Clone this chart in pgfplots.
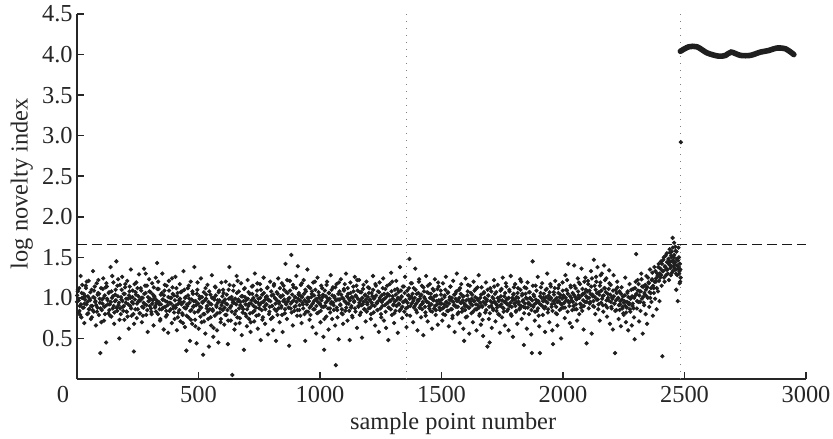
\documentclass[border=0pt]{standalone}
\usepackage{fontspec}
\setmainfont{Liberation Serif}
\usepackage{pgfplots}
\pgfplotsset{compat=1.18}
\begin{document}
\fontsize{12.2pt}{14pt}\selectfont
\begin{tikzpicture}
\begin{axis}[
 scale only axis, width=364.5pt, height=182.5pt,
 xmin=0, xmax=3000, ymin=0, ymax=4.5,
 axis x line*=bottom, axis y line*=left,
 axis line style={-, line width=0.9pt, black!85},
 tick style={line width=0.8pt, black!85},
 tick align=inside, major tick length=3.5pt,
 xtick={0,500,1000,1500,2000,2500,3000},
 ytick={0.5,1,1.5,2,2.5,3,3.5,4,4.5},
 xticklabels={\makebox[0pt][r]{0\kern4pt},500,1000,1500,2000,2500,3000},
 /pgf/number format/assume math mode=true,
 xticklabel style={anchor=base, yshift=-11.8pt, text=black!85},
 yticklabel style={inner sep=2pt, text=black!85, /pgf/number format/fixed, /pgf/number format/fixed zerofill, /pgf/number format/precision=1},
 xlabel={sample point number}, ylabel={log novelty index},
 xlabel style={at={(axis description cs:0.516,0)}, anchor=base, yshift=-25pt, text=black!85},
 ylabel style={at={(axis description cs:-0.06,0.535)}, anchor=south, inner sep=0pt, text=black!85},
 clip=false,
]
\coordinate (sw) at (rel axis cs:0,0);
\coordinate (ne) at (rel axis cs:1,1);
\addplot[gray, line width=0.5pt, dash pattern=on 0.5pt off 3pt] coordinates {(1355,0)(1355,4.5)};
\addplot[gray, line width=0.5pt, dash pattern=on 0.5pt off 3pt] coordinates {(2483,0)(2483,4.5)};
\addplot[black!90, line width=0.6pt, dash pattern=on 5pt off 2.5pt] coordinates {(0,1.655)(3000,1.655)};
\addplot[only marks, mark=*, mark size=0.86pt, black!88] coordinates {
(0,0.95)(3,1.08)(6,0.82)(9,1.12)(12,0.9)(15,1.27)(18,0.76)(21,1.0)(24,0.88)(27,1.05)
(30,0.69)(33,0.98)(36,1.15)(39,0.92)(42,0.8)(45,1.02)(48,1.21)(51,0.86)(54,0.97)(57,0.74)
(60,1.1)(63,0.9)(66,1.33)(69,0.83)(72,1.0)(75,0.95)(78,0.66)(81,1.18)(84,0.88)(87,1.06)
(90,0.79)(93,0.99)(96,0.32)(99,1.12)(102,0.85)(105,0.93)(108,1.24)(111,0.72)(114,1.03)(117,0.9)
(120,0.45)(123,1.14)(126,0.97)(129,0.81)(132,1.07)(135,0.92)(138,1.38)(141,0.77)(144,1.0)(147,0.87)
(150,1.19)(153,0.68)(156,0.96)(159,1.1)(162,1.45)(165,0.84)(168,1.02)(171,0.91)(174,0.5)(177,1.16)
(180,0.8)(183,0.98)(186,1.26)(189,0.89)(192,1.05)(195,0.73)(198,1.13)(201,0.94)(204,0.83)(207,1.21)
(210,0.99)(213,0.62)(216,1.08)(219,0.9)(222,1.35)(225,0.78)(228,1.01)(231,0.93)(234,0.34)(237,1.17)
(240,0.86)(243,1.04)(246,0.75)(249,1.12)(252,0.95)(255,1.29)(258,0.81)(261,0.97)(264,1.09)(267,0.7)
(270,1.0)(273,0.88)(276,1.36)(279,0.92)(282,1.06)(285,0.79)(288,1.15)(291,0.58)(294,0.96)(297,1.23)
(300,0.9)(303,1.07)(306,0.83)(309,1.18)(312,0.97)(315,0.66)(318,1.02)(321,0.88)(324,1.25)(327,0.94)
(330,1.43)(333,0.8)(336,1.11)(339,0.92)(342,0.72)(345,1.04)(348,0.86)(351,1.3)(354,0.98)(357,0.61)
(360,1.09)(363,0.89)(366,0.77)(369,1.15)(372,0.95)(375,0.57)(378,1.21)(381,0.84)(384,1.0)(387,0.93)
(390,0.69)(393,1.13)(396,0.87)(399,1.03)(402,0.74)(405,1.26)(408,0.91)(411,0.6)(414,1.06)(417,0.82)
(420,0.97)(423,1.17)(426,0.71)(429,0.94)(432,1.08)(435,0.79)(438,1.33)(441,0.88)(444,0.64)(447,1.01)
(450,0.35)(453,0.92)(456,1.12)(459,0.76)(462,0.99)(465,0.47)(468,1.2)(471,0.85)(474,0.68)(477,1.05)
(480,0.9)(483,1.38)(486,0.73)(489,0.96)(492,0.44)(495,1.1)(498,0.83)(501,0.62)(504,1.02)(507,0.89)
(510,1.24)(513,0.7)(516,0.95)(519,0.3)(522,1.07)(525,0.8)(528,0.56)(531,0.99)(534,0.87)(537,1.16)
(540,0.74)(543,0.4)(546,0.93)(549,1.04)(552,0.66)(555,1.28)(558,0.86)(561,0.52)(564,1.0)(567,0.78)
(570,1.13)(573,0.91)(576,0.6)(579,0.97)(582,0.45)(585,1.09)(588,0.82)(591,0.7)(594,1.19)(597,0.94)
(600,0.85)(603,1.06)(606,0.67)(609,0.98)(612,1.2)(615,0.79)(618,0.92)(621,0.43)(624,1.1)(627,1.38)
(630,0.88)(633,0.72)(636,1.01)(639,0.05)(642,0.94)(645,1.15)(648,0.61)(651,0.99)(654,0.84)(657,1.27)
(660,0.76)(663,0.96)(666,1.08)(669,0.69)(672,0.91)(675,1.18)(678,0.54)(681,1.02)(684,0.86)(687,0.36)
(690,1.12)(693,0.8)(696,0.97)(699,0.65)(702,1.22)(705,0.9)(708,0.74)(711,1.05)(714,0.58)(717,0.93)
(720,1.14)(723,0.82)(726,1.0)(729,0.71)(732,1.3)(735,0.95)(738,0.78)(741,1.09)(744,0.62)(747,0.99)
(750,0.87)(753,1.17)(756,0.48)(759,0.94)(762,1.04)(765,0.76)(768,1.25)(771,0.89)(774,0.68)(777,1.01)
(780,0.92)(783,1.12)(786,0.55)(789,0.97)(792,0.83)(795,1.2)(798,0.74)(801,1.03)(804,0.9)(807,0.6)
(810,1.15)(813,0.86)(816,0.99)(819,0.47)(822,1.07)(825,0.79)(828,1.24)(831,0.93)(834,0.7)(837,1.02)
(840,0.88)(843,1.18)(846,0.58)(849,0.96)(852,1.1)(855,0.81)(858,1.42)(861,0.92)(864,0.74)(867,1.06)
(870,0.99)(873,0.41)(876,1.21)(879,0.87)(882,1.53)(885,0.95)(888,0.66)(891,1.13)(894,0.84)(897,1.01)
(900,0.9)(903,1.27)(906,0.78)(909,1.39)(912,1.04)(915,0.85)(918,0.97)(921,1.16)(924,0.69)(927,1.01)
(930,0.92)(933,1.22)(936,0.8)(939,0.47)(942,1.08)(945,0.95)(948,1.35)(951,0.83)(954,1.0)(957,0.73)
(960,1.12)(963,0.9)(966,1.05)(969,0.64)(972,1.19)(975,0.96)(978,0.86)(981,1.1)(984,0.56)(987,0.99)
(990,1.25)(993,0.82)(996,1.03)(999,0.93)(1002,0.7)(1005,1.15)(1008,0.89)(1011,1.01)(1014,0.52)(1017,0.36)
(1020,1.09)(1023,0.94)(1026,0.77)(1029,1.2)(1032,0.99)(1035,0.61)(1038,1.06)(1041,0.87)(1044,1.28)(1047,0.95)
(1050,0.74)(1053,1.13)(1056,0.91)(1059,1.02)(1062,0.66)(1065,0.17)(1068,1.17)(1071,0.85)(1074,0.98)(1077,0.49)
(1080,1.08)(1083,0.92)(1086,1.23)(1089,0.81)(1092,1.0)(1095,0.68)(1098,1.11)(1101,0.96)(1104,0.84)(1107,1.3)
(1110,0.93)(1113,0.72)(1116,1.05)(1119,0.99)(1122,0.48)(1125,1.19)(1128,0.88)(1131,1.01)(1134,0.76)(1137,1.14)
(1140,0.95)(1143,1.26)(1146,0.83)(1149,1.02)(1152,0.63)(1155,1.09)(1158,0.9)(1161,1.22)(1164,0.79)(1167,0.97)
(1170,1.07)(1173,0.51)(1176,0.92)(1179,1.16)(1182,0.86)(1185,1.03)(1188,0.71)(1191,1.2)(1194,0.94)(1197,1.01)
(1200,0.87)(1203,1.12)(1206,0.98)(1209,0.74)(1212,1.06)(1215,0.91)(1218,1.27)(1221,0.82)(1224,1.0)(1227,0.66)
(1230,1.15)(1233,0.94)(1236,0.85)(1239,1.08)(1242,0.58)(1245,1.19)(1248,0.97)(1251,0.8)(1254,1.03)(1257,0.9)
(1260,1.24)(1263,0.72)(1266,0.99)(1269,1.11)(1272,0.63)(1275,0.93)(1278,1.05)(1281,0.48)(1284,0.88)(1287,1.17)
(1290,0.96)(1293,1.31)(1296,0.79)(1299,1.02)(1302,0.91)(1305,0.69)(1308,1.1)(1311,0.84)(1314,1.21)(1317,0.98)
(1320,0.57)(1323,1.07)(1326,0.92)(1329,1.38)(1332,0.86)(1335,1.01)(1338,0.75)(1341,1.14)(1344,0.95)(1347,0.83)
(1350,1.26)(1353,0.97)(1356,0.64)(1359,1.09)(1362,0.89)(1365,1.03)(1368,1.48)(1371,0.78)(1374,1.18)(1377,0.93)
(1380,1.0)(1383,0.7)(1386,1.12)(1389,0.9)(1392,1.36)(1395,0.85)(1398,1.05)(1401,0.6)(1404,0.96)(1407,1.2)
(1410,0.88)(1413,1.02)(1416,0.76)(1419,1.15)(1422,0.93)(1425,0.54)(1428,1.08)(1431,0.99)(1434,0.82)(1437,1.27)
(1440,0.95)(1443,0.71)(1446,1.06)(1449,0.9)(1452,1.17)(1455,0.84)(1458,1.0)(1461,0.62)(1464,1.11)(1467,0.97)
(1470,0.87)(1473,1.23)(1476,0.79)(1479,1.03)(1482,0.92)(1485,0.67)(1488,1.14)(1491,0.96)(1494,0.85)(1497,1.09)
(1500,0.93)(1503,0.72)(1506,1.18)(1509,0.88)(1512,1.01)(1515,0.79)(1518,1.26)(1521,0.95)(1524,0.84)(1527,1.07)
(1530,0.65)(1533,0.98)(1536,1.14)(1539,0.86)(1542,1.0)(1545,0.75)(1548,1.21)(1551,0.91)(1554,0.58)(1557,1.05)
(1560,0.89)(1563,1.3)(1566,0.8)(1569,0.97)(1572,1.1)(1575,0.69)(1578,0.94)(1581,1.17)(1584,0.83)(1587,1.02)
(1590,0.62)(1593,0.47)(1596,0.9)(1599,1.24)(1602,0.97)(1605,0.77)(1608,1.08)(1611,0.88)(1614,0.56)(1617,1.15)
(1620,0.93)(1623,0.81)(1626,1.04)(1629,0.7)(1632,1.2)(1635,0.96)(1638,0.86)(1641,1.11)(1644,0.6)(1647,0.99)
(1650,0.91)(1653,1.28)(1656,0.78)(1659,1.0)(1662,0.67)(1665,1.13)(1668,0.89)(1671,0.53)(1674,1.06)(1677,0.94)
(1680,0.82)(1683,1.19)(1686,0.96)(1689,0.4)(1692,1.03)(1695,0.74)(1698,0.45)(1701,1.12)(1704,0.9)(1707,0.63)
(1710,1.01)(1713,0.85)(1716,1.22)(1719,0.95)(1722,0.71)(1725,1.07)(1728,0.88)(1731,1.16)(1734,0.8)(1737,0.98)
(1740,0.57)(1743,1.09)(1746,0.92)(1749,0.76)(1752,1.25)(1755,0.87)(1758,1.02)(1761,0.66)(1764,0.95)(1767,1.14)
(1770,0.84)(1773,0.99)(1776,0.6)(1779,1.1)(1782,0.9)(1785,1.27)(1788,0.78)(1791,1.0)(1794,0.52)(1797,1.05)
(1800,0.93)(1803,1.17)(1806,0.83)(1809,1.01)(1812,0.68)(1815,1.12)(1818,0.95)(1821,0.86)(1824,1.23)(1827,0.9)
(1830,0.74)(1833,1.05)(1836,0.97)(1839,0.42)(1842,1.13)(1845,0.88)(1848,1.0)(1851,0.62)(1854,1.19)(1857,0.93)
(1860,0.8)(1863,1.07)(1866,0.99)(1869,0.55)(1872,0.32)(1875,1.45)(1878,0.89)(1881,1.02)(1884,0.72)(1887,1.15)
(1890,0.94)(1893,0.84)(1896,1.26)(1899,0.96)(1902,0.65)(1905,0.32)(1908,1.06)(1911,0.91)(1914,1.18)(1917,0.79)
(1920,1.0)(1923,0.87)(1926,0.58)(1929,1.1)(1932,0.95)(1935,1.3)(1938,0.82)(1941,1.03)(1944,0.7)(1947,0.98)
(1950,1.14)(1953,0.89)(1956,0.6)(1959,0.43)(1962,1.07)(1965,0.93)(1968,1.21)(1971,0.81)(1974,1.0)(1977,0.66)
(1980,1.12)(1983,0.96)(1986,0.85)(1989,1.04)(1992,0.5)(1995,0.92)(1998,1.19)(2001,0.88)(2004,1.02)(2007,0.75)
(2010,1.28)(2013,0.97)(2016,1.09)(2019,0.83)(2022,1.42)(2025,0.94)(2028,0.69)(2031,1.15)(2034,1.0)(2037,0.64)
(2040,1.06)(2043,0.9)(2046,1.4)(2049,0.86)(2052,1.12)(2055,0.98)(2058,0.72)(2061,1.24)(2064,1.03)(2067,0.8)
(2070,1.17)(2073,0.92)(2076,1.36)(2079,0.84)(2082,1.05)(2085,0.61)(2088,1.2)(2091,0.95)(2094,1.1)(2097,0.44)
(2100,1.0)(2103,1.21)(2106,0.87)(2109,1.09)(2112,0.95)(2115,1.33)(2118,0.56)(2121,1.04)(2124,0.9)(2127,1.47)
(2130,1.15)(2133,0.8)(2136,1.26)(2139,0.98)(2142,1.38)(2145,0.86)(2148,1.07)(2151,0.72)(2154,1.19)(2157,0.94)
(2160,1.3)(2163,1.02)(2166,0.83)(2169,1.4)(2172,1.12)(2175,0.91)(2178,1.24)(2181,0.77)(2184,1.05)(2187,0.97)
(2190,1.34)(2193,0.68)(2196,1.16)(2199,0.89)(2202,1.01)(2205,0.61)(2208,1.28)(2211,0.93)(2214,0.32)(2217,1.1)
(2220,0.85)(2223,1.2)(2226,0.99)(2229,0.74)(2232,1.08)(2235,0.92)(2238,0.65)(2241,1.13)(2244,0.87)(2247,1.02)
(2250,0.79)(2253,0.96)(2256,1.25)(2259,0.7)(2262,0.88)(2265,1.06)(2268,0.6)(2271,0.94)(2274,1.17)(2277,0.83)
(2280,1.0)(2283,0.66)(2286,0.9)(2289,1.11)(2292,0.76)(2295,0.49)(2298,1.03)(2301,1.54)(2304,0.87)(2307,1.22)
(2310,0.95)(2313,0.71)(2316,1.08)(2319,0.84)(2322,1.3)(2325,0.99)(2328,0.56)(2331,1.14)(2334,0.91)(2337,1.04)
(2340,0.8)(2343,1.27)(2346,0.68)(2349,1.0)(2352,1.19)(2355,0.89)(2358,1.35)(2361,1.06)(2364,0.95)(2367,1.23)
(2370,0.78)(2373,1.12)(2376,1.38)(2379,0.99)(2382,1.2)(2385,0.86)(2388,1.3)(2391,1.08)(2394,1.42)(2397,0.96)
(2400,1.25)(2403,1.45)(2406,1.15)(2409,0.28)(2412,1.33)(2415,1.5)(2418,1.2)(2421,1.38)(2424,1.28)(2427,1.55)
(2430,1.35)(2433,1.44)(2436,1.22)(2439,1.6)(2442,1.4)(2445,1.52)(2448,1.31)(2451,1.74)(2454,1.46)(2457,1.68)
(2460,1.36)(2463,1.58)(2466,1.1)(2469,1.48)(2472,0.96)(2475,1.62)(2478,1.3)(2481,1.42)(2484,1.25)
(2440,1.45)(2447,1.57)(2456,1.5)(2462,1.63)(2470,1.4)(2477,1.5)(2480,1.18)(2483,1.35)(2444,1.28)(2452,1.33)
(2458,1.42)(2465,1.3)(2474,1.36)
(2485,2.92)
(1,1.03)(4,1.1)(7,0.97)(10,0.84)(13,0.79)(16,0.92)(19,1.06)(22,1.16)(25,1.0)(28,0.88)
(31,0.93)(34,1.02)(37,1.12)(40,1.2)(43,0.95)(46,0.81)(49,0.86)(52,0.99)(55,1.07)(58,0.9)
(61,0.76)(64,0.85)(67,1.01)(70,1.09)(73,1.14)(76,0.96)(79,0.91)(82,0.83)(85,1.04)(88,1.22)
(91,1.05)(94,0.94)(97,0.87)(100,0.7)(103,0.98)(106,1.11)(109,1.0)(112,0.89)(115,0.8)(118,1.13)
(121,1.18)(124,0.99)(127,0.92)(130,1.06)(133,0.85)(136,0.78)(139,0.95)(142,1.08)(145,1.27)(148,1.02)
(151,0.9)(154,0.82)(157,1.04)(160,0.97)(163,0.88)(166,1.15)(169,1.23)(172,0.94)(175,0.73)(178,0.87)
(181,1.01)(184,1.1)(187,0.96)(190,0.84)(193,0.9)(196,1.05)(199,1.17)(202,0.99)(205,0.83)(208,0.77)
(211,0.92)(214,1.03)(217,1.14)(220,1.0)(223,0.87)(226,0.95)(229,1.09)(232,0.8)(235,0.68)(238,0.98)
(241,1.07)(244,1.19)(247,0.93)(250,0.86)(253,1.02)(256,0.97)(259,0.81)(262,1.12)(265,1.0)(268,0.89)
(271,0.78)(274,0.94)(277,1.05)(280,1.15)(283,1.3)(286,0.91)(289,0.85)(292,1.01)(295,0.96)(298,1.08)
(301,0.99)(304,0.87)(307,0.8)(310,0.93)(313,1.04)(316,1.13)(319,1.0)(322,0.9)(325,0.83)(328,0.97)
(331,1.11)(334,1.2)(337,0.95)(340,0.86)(343,0.74)(346,0.92)(349,1.06)(352,0.98)(355,0.88)(358,1.03)
(361,1.16)(364,0.96)(367,0.84)(370,0.79)(373,0.91)(376,1.01)(379,1.09)(382,0.94)(385,0.86)(388,1.0)
(391,1.24)(394,1.05)(397,0.9)(400,0.82)(403,0.97)(406,0.88)(409,1.12)(412,1.02)(415,0.76)(418,0.93)
(421,0.85)(424,0.99)(427,1.07)(430,0.92)(433,0.81)(436,0.69)(439,0.95)(442,1.1)(445,1.0)(448,0.87)
(451,0.78)(454,0.9)(457,1.03)(460,1.15)(463,0.94)(466,0.84)(469,0.73)(472,0.98)(475,1.08)(478,0.89)
(481,0.96)(484,0.82)(487,0.65)(490,0.91)(493,1.05)(496,1.19)(499,0.93)(502,0.85)(505,0.99)(508,0.77)
(511,0.88)(514,1.01)(517,0.94)(520,0.8)(523,0.71)(526,0.97)(529,1.12)(532,1.04)(535,0.9)(538,0.83)
(541,0.95)(544,1.08)(547,0.86)(550,0.76)(553,0.92)(556,1.0)(559,0.84)(562,0.63)(565,0.98)(568,1.14)
(571,1.03)(574,0.89)(577,0.81)(580,0.94)(583,1.07)(586,0.97)(589,0.87)(592,0.74)(595,0.91)(598,1.02)
(601,1.1)(604,0.96)(607,0.88)(610,0.79)(613,0.93)(616,1.04)(619,0.85)(622,0.72)(625,0.99)(628,1.16)
(631,1.0)(634,0.9)(637,0.83)(640,0.97)(643,1.09)(646,0.94)(649,0.8)(652,0.68)(655,0.92)(658,1.06)
(661,1.21)(664,0.98)(667,0.87)(670,0.75)(673,0.95)(676,1.02)(679,0.89)(682,0.82)(685,0.96)(688,1.11)
(691,1.01)(694,0.92)(697,0.77)(700,0.86)(703,0.99)(706,1.07)(709,0.93)(712,0.81)(715,0.7)(718,0.97)
(721,1.05)(724,1.15)(727,0.9)(730,0.84)(733,0.96)(736,0.88)(739,1.03)(742,1.18)(745,0.94)(748,0.79)
(751,0.91)(754,1.0)(757,1.1)(760,0.85)(763,0.73)(766,0.95)(769,1.06)(772,0.97)(775,0.86)(778,0.92)
(781,1.02)(784,1.13)(787,0.98)(790,0.8)(793,0.89)(796,0.96)(799,1.08)(802,0.9)(805,0.76)(808,1.04)
(811,1.17)(814,1.0)(817,0.93)(820,0.84)(823,0.97)(826,1.05)(829,0.87)(832,0.95)(835,1.12)(838,1.01)
(841,0.9)(844,0.79)(847,1.03)(850,1.15)(853,0.98)(856,0.86)(859,0.94)(862,1.07)(865,1.22)(868,0.96)
(871,0.88)(874,1.0)(877,1.09)(880,0.93)(883,0.82)(886,1.04)(889,1.16)(892,0.97)(895,0.89)(898,1.01)
(901,1.12)(904,0.95)(907,0.85)(910,0.99)(913,1.06)(916,0.91)(919,0.78)(922,1.02)(925,1.18)(928,0.94)
(931,0.87)(934,1.05)(937,0.97)(940,1.1)(943,0.83)(946,0.92)(949,1.0)(952,1.14)(955,0.96)(958,0.88)
(961,0.79)(964,1.01)(967,1.08)(970,0.93)(973,0.86)(976,1.03)(979,1.2)(982,0.98)(985,0.9)(988,0.81)
(991,0.95)(994,1.07)(997,1.0)(1000,0.92)(1003,0.84)(1006,0.97)(1009,1.12)(1012,1.04)(1015,0.89)(1018,0.74)
(1021,0.9)(1024,1.02)(1027,1.16)(1030,0.96)(1033,0.87)(1036,1.06)(1039,0.99)(1042,0.82)(1045,0.93)(1048,1.1)
(1051,1.03)(1054,0.94)(1057,0.85)(1060,1.0)(1063,1.13)(1066,0.97)(1069,0.88)(1072,0.76)(1075,1.05)(1078,1.19)
(1081,0.98)(1084,0.91)(1087,1.04)(1090,0.86)(1093,0.8)(1096,0.99)(1099,1.09)(1102,1.17)(1105,0.95)(1108,0.88)
(1111,1.02)(1114,1.12)(1117,0.93)(1120,0.84)(1123,0.97)(1126,1.06)(1129,0.9)(1132,0.78)(1135,1.0)(1138,1.08)
(1141,0.96)(1144,0.87)(1147,1.03)(1150,1.15)(1153,1.22)(1156,0.99)(1159,0.89)(1162,0.94)(1165,1.07)(1168,0.82)
(1171,0.91)(1174,1.0)(1177,1.11)(1180,0.95)(1183,0.86)(1186,1.04)(1189,0.98)(1192,0.83)(1195,0.92)(1198,1.13)
(1201,1.06)(1204,0.97)(1207,0.88)(1210,0.8)(1213,0.94)(1216,1.02)(1219,1.1)(1222,0.99)(1225,0.9)(1228,1.17)
(1231,1.03)(1234,0.93)(1237,0.85)(1240,0.96)(1243,1.07)(1246,1.0)(1249,0.87)(1252,0.76)(1255,0.95)(1258,1.12)
(1261,0.98)(1264,1.05)(1267,0.91)(1270,0.83)(1273,1.01)(1276,1.15)(1279,0.94)(1282,0.88)(1285,1.03)(1288,0.97)
(1291,0.86)(1294,1.08)(1297,1.2)(1300,0.99)(1303,0.92)(1306,0.81)(1309,0.96)(1312,1.04)(1315,0.9)(1318,1.11)
(1321,1.0)(1324,0.93)(1327,0.84)(1330,0.98)(1333,1.09)(1336,1.02)(1339,0.89)(1342,0.95)(1345,1.14)(1348,1.06)
(1351,0.97)(1354,0.87)(1357,0.79)(1360,0.94)(1363,1.03)(1366,1.12)(1369,0.99)(1372,0.9)(1375,1.01)(1378,1.18)
(1381,1.05)(1384,0.96)(1387,0.88)(1390,1.0)(1393,1.1)(1396,0.93)(1399,0.82)(1402,0.97)(1405,1.06)(1408,1.23)
(1411,0.99)(1414,0.91)(1417,1.04)(1420,0.86)(1423,0.95)(1426,1.13)(1429,1.01)(1432,0.89)(1435,0.78)(1438,0.96)
(1441,1.07)(1444,1.15)(1447,0.94)(1450,0.87)(1453,1.0)(1456,1.05)(1459,0.92)(1462,0.83)(1465,0.98)(1468,1.09)
(1471,1.02)(1474,0.9)(1477,0.85)(1480,0.96)(1483,1.11)(1486,1.19)(1489,0.97)(1492,0.88)(1495,0.93)(1498,1.04)
(1501,0.98)(1504,0.87)(1507,0.8)(1510,0.92)(1513,1.03)(1516,1.1)(1519,0.95)(1522,0.9)(1525,1.06)(1528,0.84)
(1531,0.93)(1534,1.01)(1537,1.14)(1540,0.97)(1543,0.86)(1546,0.78)(1549,0.95)(1552,1.04)(1555,0.91)(1558,0.99)
(1561,1.08)(1564,0.96)(1567,0.89)(1570,0.82)(1573,1.0)(1576,1.12)(1579,1.05)(1582,0.94)(1585,0.87)(1588,0.97)
(1591,1.02)(1594,0.93)(1597,0.85)(1600,0.76)(1603,0.9)(1606,1.03)(1609,1.16)(1612,0.98)(1615,0.88)(1618,0.95)
(1621,1.06)(1624,0.99)(1627,0.91)(1630,0.83)(1633,0.96)(1636,1.09)(1639,1.01)(1642,0.92)(1645,0.86)(1648,1.13)
(1651,0.97)(1654,0.88)(1657,0.8)(1660,0.94)(1663,1.04)(1666,0.9)(1669,0.73)(1672,0.95)(1675,1.07)(1678,1.0)
(1681,0.92)(1684,0.85)(1687,0.98)(1690,1.1)(1693,1.03)(1696,0.89)(1699,0.81)(1702,0.96)(1705,1.08)(1708,0.94)
(1711,0.87)(1714,0.99)(1717,1.14)(1720,1.05)(1723,0.93)(1726,0.84)(1729,0.91)(1732,1.0)(1735,0.96)(1738,0.79)
(1741,0.9)(1744,1.02)(1747,1.11)(1750,0.97)(1753,0.88)(1756,0.83)(1759,0.95)(1762,1.06)(1765,1.18)(1768,0.99)
(1771,0.92)(1774,0.86)(1777,1.0)(1780,1.08)(1783,0.94)(1786,0.8)(1789,0.89)(1792,0.97)(1795,1.04)(1798,1.13)
(1801,0.98)(1804,0.9)(1807,0.84)(1810,0.95)(1813,1.06)(1816,1.0)(1819,0.92)(1822,0.87)(1825,1.1)(1828,1.2)
(1831,1.03)(1834,0.96)(1837,0.89)(1840,0.81)(1843,0.93)(1846,1.05)(1849,1.12)(1852,0.99)(1855,0.88)(1858,0.94)
(1861,1.07)(1864,1.0)(1867,0.91)(1870,0.85)(1873,0.97)(1876,1.15)(1879,1.04)(1882,0.92)(1885,0.83)(1888,0.98)
(1891,1.09)(1894,0.95)(1897,0.87)(1900,0.78)(1903,0.93)(1906,1.02)(1909,1.13)(1912,1.0)(1915,0.9)(1918,0.96)
(1921,1.05)(1924,0.97)(1927,0.89)(1930,1.01)(1933,1.11)(1936,0.94)(1939,0.86)(1942,0.99)(1945,1.07)(1948,1.17)
(1951,1.0)(1954,0.92)(1957,0.84)(1960,0.96)(1963,1.04)(1966,1.12)(1969,0.98)(1972,0.89)(1975,0.8)(1978,0.95)
(1981,1.06)(1984,1.16)(1987,1.01)(1990,0.93)(1993,0.87)(1996,0.99)(1999,1.09)(2002,1.03)(2005,0.94)(2008,0.88)
(2011,1.0)(2014,1.1)(2017,1.22)(2020,1.05)(2023,0.96)(2026,0.9)(2029,1.02)(2032,1.13)(2035,0.97)(2038,0.85)
(2041,0.95)(2044,1.04)(2047,1.15)(2050,1.01)(2053,0.92)(2056,0.86)(2059,0.99)(2062,1.08)(2065,1.19)(2068,1.0)
(2071,0.93)(2074,0.88)(2077,1.03)(2080,1.11)(2083,0.97)(2086,0.9)(2089,1.06)(2092,1.25)(2095,1.02)(2098,0.95)
(2101,1.08)(2104,1.17)(2107,1.0)(2110,0.93)(2113,1.05)(2116,1.14)(2119,1.24)(2122,1.02)(2125,0.96)(2128,0.89)
(2131,1.01)(2134,1.1)(2137,1.2)(2140,1.06)(2143,0.98)(2146,0.92)(2149,1.04)(2152,1.15)(2155,1.28)(2158,1.09)
(2161,0.99)(2164,0.91)(2167,1.03)(2170,1.12)(2173,1.22)(2176,1.07)(2179,0.97)(2182,0.88)(2185,1.0)(2188,1.11)
(2191,1.18)(2194,1.04)(2197,0.95)(2200,0.87)(2203,0.99)(2206,1.09)(2209,1.02)(2212,0.93)(2215,0.84)(2218,0.97)
(2221,1.06)(2224,1.13)(2227,1.0)(2230,0.91)(2233,0.85)(2236,0.96)(2239,1.05)(2242,0.98)(2245,0.89)(2248,0.81)
(2251,0.94)(2254,1.03)(2257,0.9)(2260,0.82)(2263,0.95)(2266,1.08)(2269,1.01)(2272,0.92)(2275,0.86)(2278,0.99)
(2281,1.1)(2284,1.02)(2287,0.93)(2290,0.87)(2293,1.0)(2296,1.12)(2299,1.2)(2302,1.05)(2305,0.96)(2308,1.09)
(2311,1.17)(2314,1.03)(2317,0.95)(2320,1.08)(2323,1.23)(2326,1.14)(2329,1.01)(2332,0.94)(2335,1.06)(2338,1.16)
(2341,1.1)(2344,1.02)(2347,1.13)(2350,1.25)(2353,1.18)(2356,1.07)(2359,1.0)(2362,1.12)(2365,1.22)(2368,1.31)
(2371,1.15)(2374,1.06)(2377,1.2)(2380,1.33)(2383,1.24)(2386,1.12)(2389,1.27)(2392,1.38)(2395,1.21)(2398,1.3)
(2401,1.36)(2404,1.28)(2407,1.42)(2410,1.33)(2413,1.47)(2416,1.25)(2419,1.39)(2422,1.52)(2425,1.35)(2428,1.44)
(2431,1.3)(2434,1.48)(2437,1.41)(2440,1.56)(2443,1.37)(2446,1.5)(2449,1.45)(2452,1.62)(2455,1.39)(2458,1.53)
(2461,1.44)(2464,1.35)(2467,1.57)(2470,1.28)(2473,1.46)(2476,1.38)(2479,1.33)(2482,1.2)
};
\addplot[black!88, line width=2.8pt, line cap=round, smooth] coordinates {
(2483,4.04)(2517,4.095)(2552,4.095)(2593,4.02)(2641,3.98)(2669,3.99)(2692,4.03)(2730,3.99)(2771,3.99)(2812,4.03)(2847,4.05)(2879,4.08)(2916,4.07)(2950,4.0)};
\end{axis}
\pgfresetboundingbox
\path[use as bounding box] ([shift={(-38.5pt,-29.5pt)}]sw) rectangle ([shift={(13.5pt,7pt)}]ne);
\end{tikzpicture}
\end{document}
